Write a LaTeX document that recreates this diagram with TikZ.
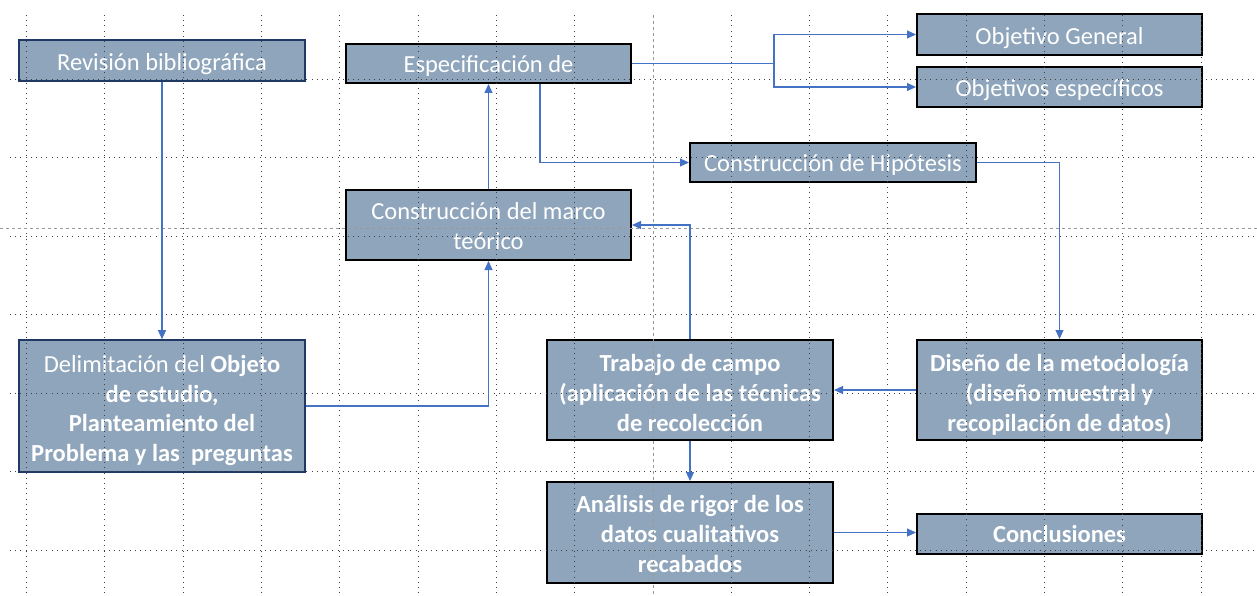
\documentclass[tikz,border=0pt]{standalone}
\usepackage{fontspec}
\setmainfont{Carlito}
\usetikzlibrary{arrows.meta}
\definecolor{boxfill}{RGB}{143,165,188}
\definecolor{navy}{RGB}{31,56,100}
\definecolor{connblue}{RGB}{68,114,196}
% lower a (multi-line) text inside its box without changing the box size
\newcommand{\dntext}[2][2.5pt]{\raisebox{-#1}[\height][\depth]{\begin{tabular}{@{}c@{}}#2\end{tabular}}}
\begin{document}
\begin{tikzpicture}[x=1pt,y=-1pt,
  box/.style={draw=black, line width=2pt, fill=boxfill, text=white,
    font=\fontsize{24.5}{29.7}\selectfont, align=center, inner sep=0pt},
  boldbox/.style={box, font=\fontsize{24.5}{29.7}\selectfont\bfseries},
  navybox/.style={box, draw=navy, line width=1.6pt},
  connline/.style={draw=connblue, line width=1.1pt},
  conn/.style={connline, -{Triangle[length=9pt,width=8pt]}},
  gridline/.style={black!75, line width=0.8pt, dash pattern=on 0.8pt off 4.4pt},
  breakline/.style={black!40, line width=0.8pt, dash pattern=on 3pt off 3pt}]
\useasboundingbox (0,0) rectangle (1257,596);

% boxes
\node[navybox, minimum width=286pt, minimum height=41pt] (rev) at (162,60.5) {\dntext[4pt]{Revisión bibliográfica}};
\node[box, minimum width=285pt, minimum height=39pt] (esp) at (488.5,63.5) {\dntext[3pt]{Especificación de}};
\node[box, minimum width=285pt, minimum height=41pt] (og) at (1059.5,34.5) {\dntext[4.5pt]{Objetivo General}};
\node[box, minimum width=285pt, minimum height=40pt] (oe) at (1059.5,87) {\dntext[4pt]{Objetivos específicos}};
\node[box, minimum width=286pt, minimum height=39pt] (hip) at (833,162.5) {\dntext[3pt]{Construcción de Hipótesis}};
\node[box, minimum width=285pt, minimum height=70pt] (marco) at (488.5,225) {\dntext[3.5pt]{Construcción del marco\\teórico}};
\node[navybox, minimum width=286pt, minimum height=132pt] (del) at (162,406)
  {\dntext[5pt]{Delimitación del \textbf{Objeto}\\\textbf{de estudio,}\\\textbf{Planteamiento del}\\\textbf{Problema y las\ \ preguntas}}};
\node[boldbox, minimum width=286pt, minimum height=100pt] (trab) at (690,390)
  {\dntext[5.5pt]{Trabajo de campo\\(aplicación de las técnicas\\de recolección}};
\node[boldbox, minimum width=285pt, minimum height=100pt] (dis) at (1059.5,390)
  {\dntext[5.5pt]{Diseño de la metodología\\(diseño muestral y\\recopilación de datos)}};
\node[boldbox, minimum width=286pt, minimum height=101pt] (ana) at (690,532.5)
  {\dntext[4pt]{Análisis de rigor de los\\datos cualitativos\\recabados}};
\node[boldbox, minimum width=285pt, minimum height=40pt] (conc) at (1059.5,534) {\dntext[3pt]{Conclusiones}};

% grid (drawn over the boxes, as in the reference)
\foreach \i in {0,...,15} {
  \ifnum\i=8\relax
    \draw[breakline] ({26.5+78.3*\i},15) -- ({26.5+78.3*\i},596);
  \else
    \draw[gridline] ({26.5+78.3*\i},15) -- ({26.5+78.3*\i},596);
  \fi
}
\foreach \j in {0,...,6} {
  \draw[gridline] (10,{79+78.5*\j}) -- (1257,{79+78.5*\j});
}
\draw[breakline] (0,228) -- (1257,228);

% connectors
\draw[conn] (rev.south) -- (del.north);
\draw[conn] (del.east) -| (marco.south);
\draw[conn] (marco.north) -- (esp.south);
\draw[conn] ([xshift=51.5pt]esp.south) |- (hip.west);
\coordinate (split) at (774,63.5);
\draw[connline] (esp.east) -- (split);
\draw[conn] (split) |- (og.west);
\draw[conn] (split) |- (oe.west);
\draw[conn] (hip.east) -| (dis.north);
\draw[conn] (dis.west) -- (trab.east);
\draw[conn] (trab.north) |- (marco.east);
\draw[conn] (trab.south) -- (ana.north);
\draw[conn] (ana.east) -- (ana.east -| conc.west);
\end{tikzpicture}
\end{document}
